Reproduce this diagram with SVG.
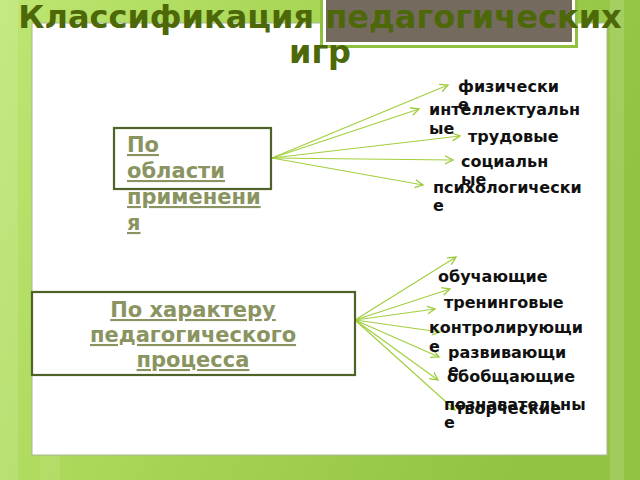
<svg xmlns="http://www.w3.org/2000/svg" width="640" height="480" viewBox="0 0 640 480">
<defs>
<linearGradient id="bg" x1="0" y1="0" x2="1" y2="0.3">
<stop offset="0" stop-color="#bde672"/>
<stop offset="0.5" stop-color="#a6d452"/>
<stop offset="1" stop-color="#93c343"/>
</linearGradient>
<marker id="ah" markerUnits="userSpaceOnUse" markerWidth="10" markerHeight="10" refX="8" refY="4" orient="auto" viewBox="0 0 10 8">
<path d="M0,0 L8,4 L0,8" fill="none" stroke="#9ccb3a" stroke-width="1.3"/>
</marker>
</defs>
<style>
.title{font-family:"DejaVu Sans",Verdana,sans-serif;font-weight:bold;font-size:32px;fill:#4c6808;text-anchor:middle}
.box{fill:#ffffff;stroke:#4f6228;stroke-width:2.2}
.btxt{font-family:"DejaVu Sans",Verdana,sans-serif;font-weight:bold;font-size:21px;fill:#8a9461;text-decoration:underline}
.lbl{font-family:"DejaVu Sans",Verdana,sans-serif;font-weight:bold;font-size:16px;fill:#111111}
.conn line{stroke:#a2cf3e;stroke-width:1.2;marker-end:url(#ah)}
</style>
<rect x="0" y="0" width="640" height="480" fill="url(#bg)"/>
<rect x="0" y="0" width="18" height="480" fill="#ffffff" opacity="0.12"/>
<rect x="40" y="455" width="20" height="25" fill="#ffffff" opacity="0.08"/>
<rect x="610" y="0" width="14" height="480" fill="#ffffff" opacity="0.14"/>
<rect x="32" y="23" width="575" height="432" fill="#ffffff" stroke="#aab59a" stroke-width="1"/>
<g id="topbox">
<rect x="320" y="-5" width="258" height="53" fill="#8fc13f"/>
<rect x="323" y="-5" width="252" height="50" fill="#ffffff"/>
<rect x="326" y="-5" width="246" height="47" fill="#756a5e"/>
</g>
<g id="title">
<text class="title" x="320" y="28">Классификация педагогических</text>
<text class="title" x="320" y="63">игр</text>
</g>
<g class="conn" id="connectors">
<line x1="272" y1="158" x2="448" y2="85"/>
<line x1="272" y1="158" x2="419" y2="109"/>
<line x1="272" y1="158" x2="460" y2="136"/>
<line x1="272" y1="158" x2="453" y2="160"/>
<line x1="272" y1="158" x2="423" y2="185"/>
<line x1="355" y1="320" x2="456" y2="257"/>
<line x1="355" y1="320" x2="450" y2="289"/>
<line x1="355" y1="320" x2="435" y2="309"/>
<line x1="355" y1="320" x2="440" y2="332"/>
<line x1="355" y1="320" x2="439" y2="357"/>
<line x1="355" y1="320" x2="438" y2="380"/>
<line x1="355" y1="320" x2="455" y2="410"/>
</g>
<g id="node-area">
<rect class="box" x="114" y="128" width="157" height="61"/>
<text class="btxt" x="127" y="152"><tspan x="127">По</tspan><tspan x="127" dy="26">области</tspan><tspan x="127" dy="26">применени</tspan><tspan x="127" dy="26">я</tspan></text>
</g>
<g id="node-process">
<rect class="box" x="32" y="292" width="323" height="83"/>
<text class="btxt" text-anchor="middle" x="193" y="317"><tspan x="193">По характеру</tspan><tspan x="193" dy="25">педагогического</tspan><tspan x="193" dy="25">процесса</tspan></text>
</g>
<g id="lbl-fiz"><text class="lbl" x="458" y="92"><tspan x="458">физически</tspan><tspan x="458" dy="18">е</tspan></text></g>
<g id="lbl-int"><text class="lbl" x="429" y="115"><tspan x="429">интеллектуальн</tspan><tspan x="429" dy="19">ые</tspan></text></g>
<g id="lbl-trud"><text class="lbl" x="468" y="142">трудовые</text></g>
<g id="lbl-soc"><text class="lbl" x="461" y="167"><tspan x="461">социальн</tspan><tspan x="461" dy="18">ые</tspan></text></g>
<g id="lbl-psy"><text class="lbl" x="433" y="193"><tspan x="433">психологически</tspan><tspan x="433" dy="18">е</tspan></text></g>
<g id="lbl-obuch"><text class="lbl" x="438" y="282">обучающие</text></g>
<g id="lbl-tren"><text class="lbl" x="444" y="308">тренинговые</text></g>
<g id="lbl-kontr"><text class="lbl" x="429" y="333"><tspan x="429">контролирующи</tspan><tspan x="429" dy="19">е</tspan></text></g>
<g id="lbl-razv"><text class="lbl" x="448" y="358"><tspan x="448">развивающи</tspan><tspan x="448" dy="18">е</tspan></text></g>
<g id="lbl-obob"><text class="lbl" x="447" y="382">обобщающие</text></g>
<g id="lbl-pozn"><text class="lbl" x="444" y="410"><tspan x="444">познавательны</tspan><tspan x="444" dy="18">е</tspan></text></g>
<g id="lbl-tvor"><text class="lbl" x="455" y="414">творческие</text></g>
</svg>
